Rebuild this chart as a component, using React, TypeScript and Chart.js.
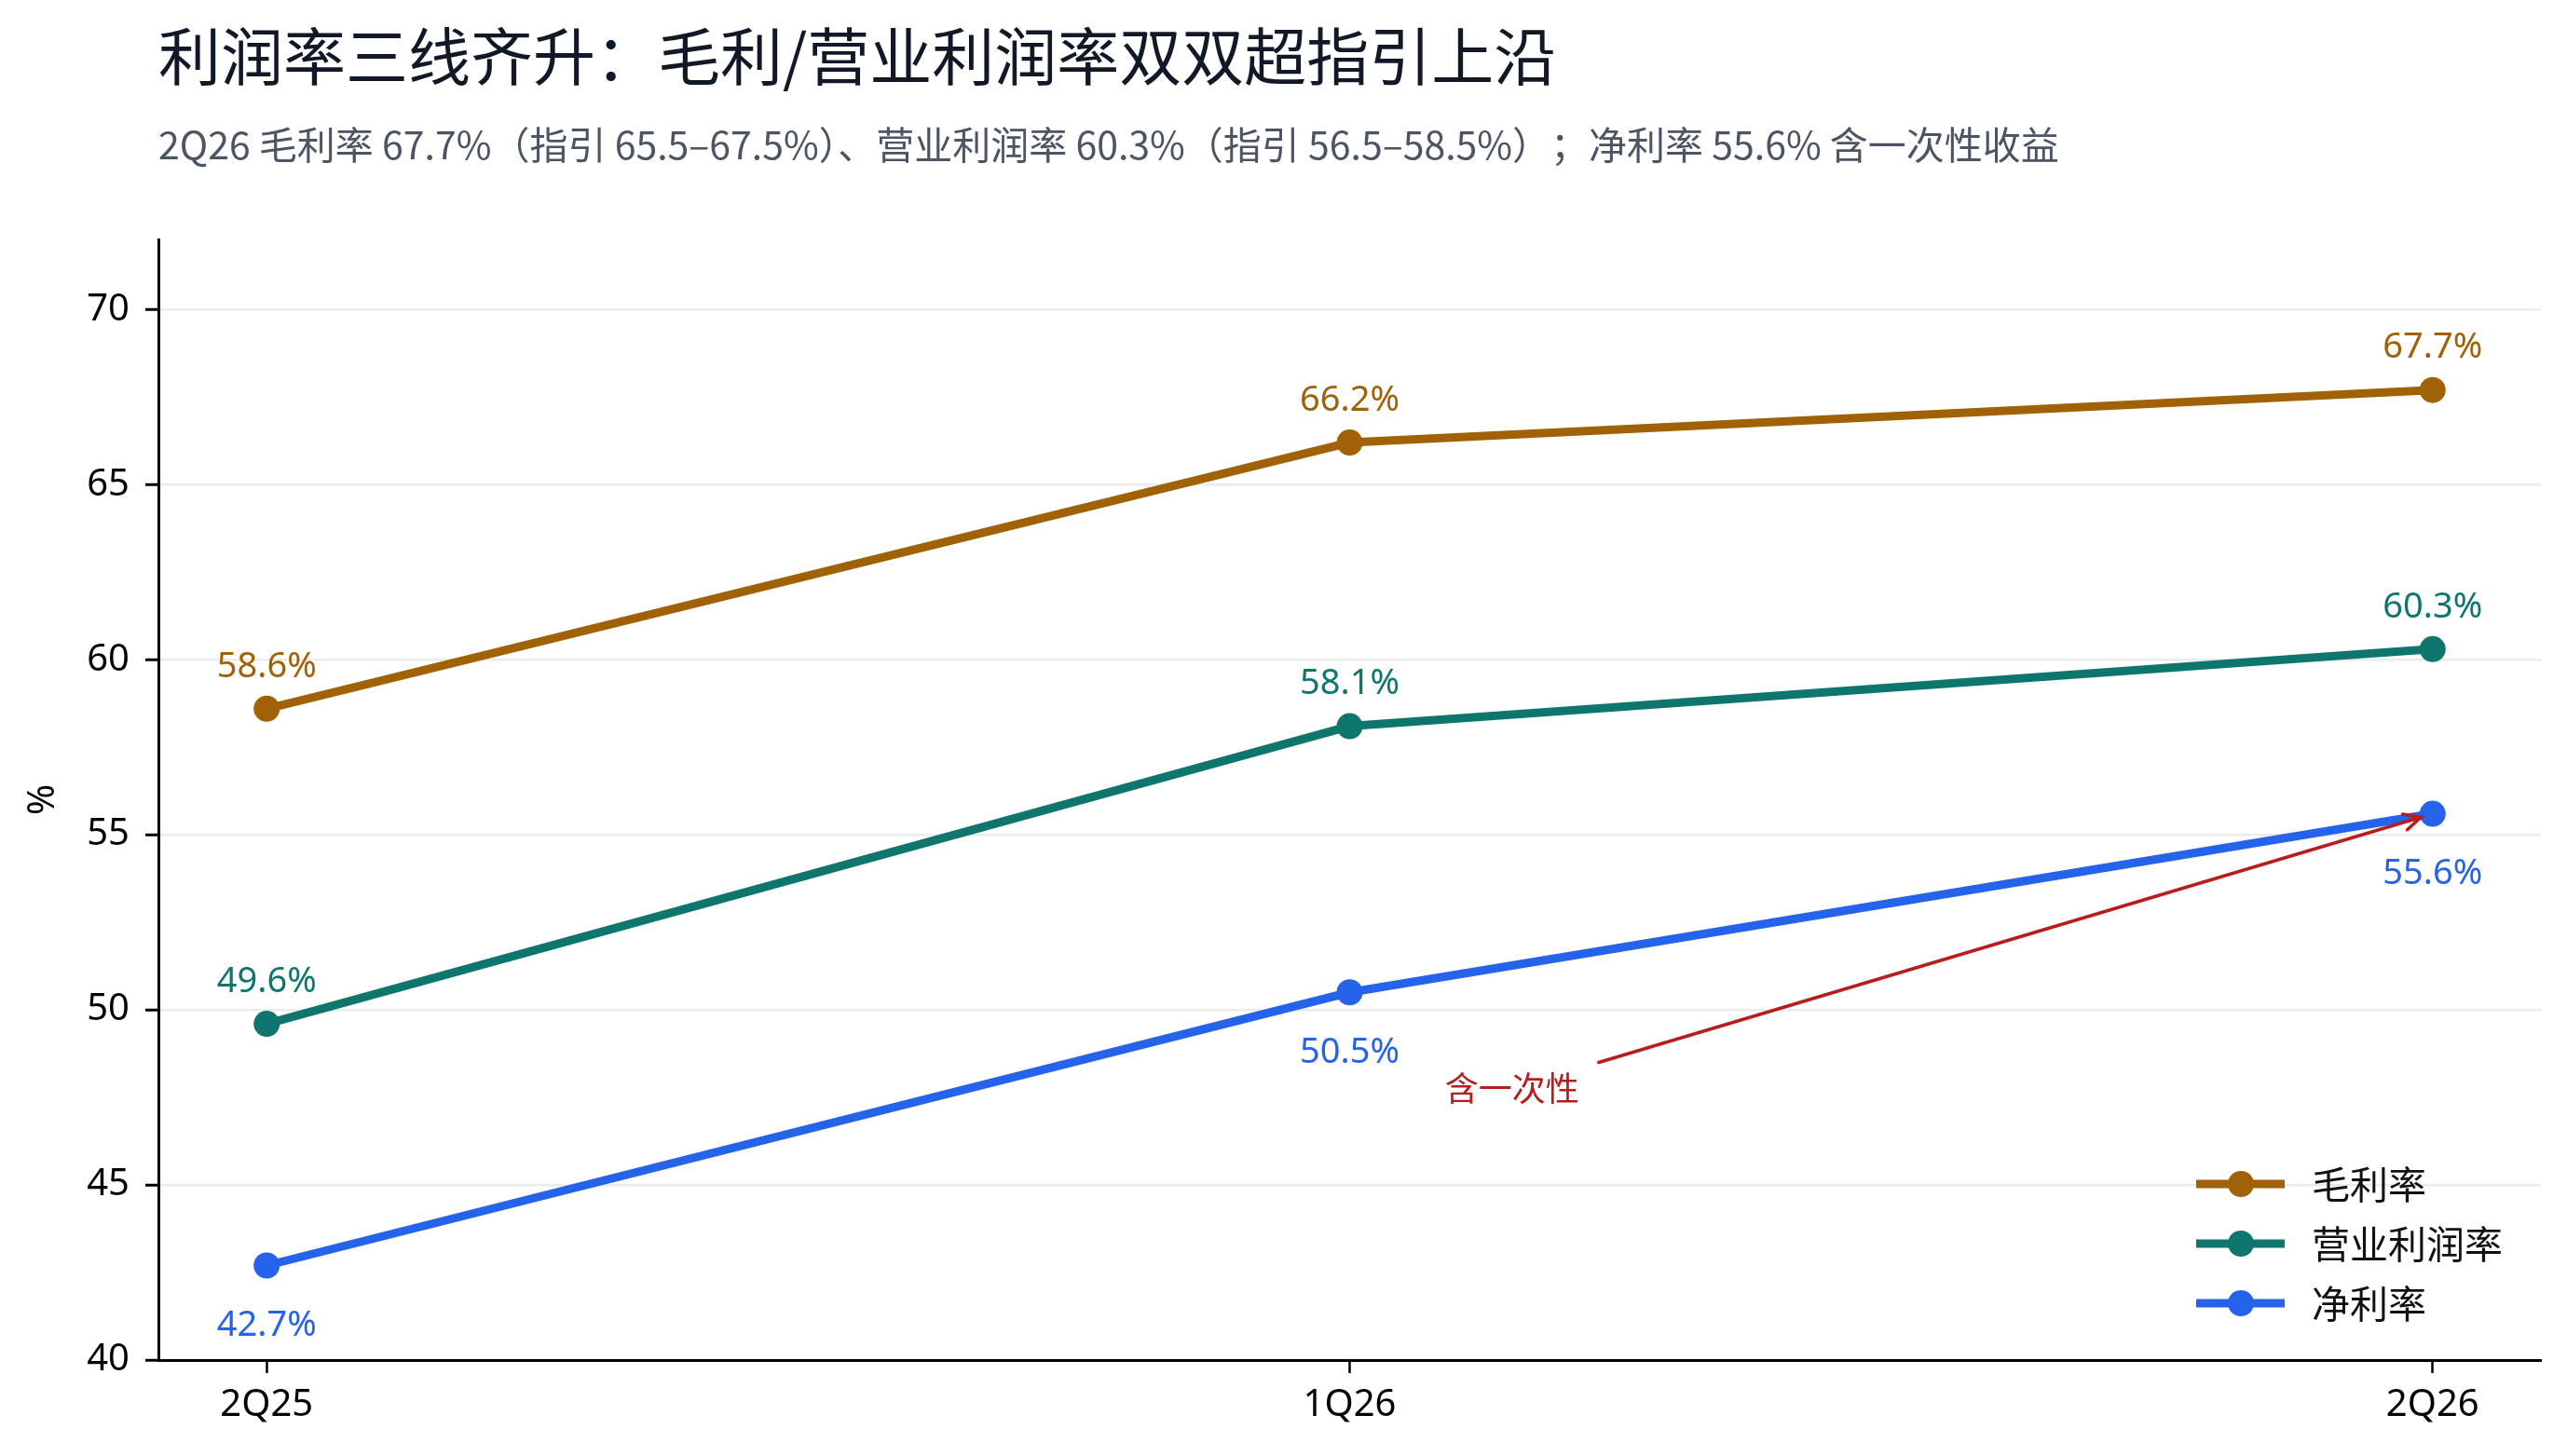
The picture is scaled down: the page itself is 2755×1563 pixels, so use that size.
import React, { useEffect, useRef } from 'react';
import { Chart, registerables } from 'chart.js';

Chart.register(...registerables);

// data
const quarters = ['2Q25', '1Q26', '2Q26'];
const grossMargin = [58.6, 66.2, 67.7];
const operatingMargin = [49.6, 58.1, 60.3];
const netMargin = [42.7, 50.5, 55.6];
const seriesNames = ['毛利率', '营业利润率', '净利率'];
const seriesColors = ['#a16207', '#0f766e', '#2563eb'];
const labelSides = ['above', 'above', 'below'];
const yTicks = [40, 45, 50, 55, 60, 65, 70];

const titleText = '利润率三线齐升：毛利/营业利润率双双超指引上沿';
const subtitleText = '2Q26 毛利率 67.7%（指引 65.5–67.5%）、营业利润率 60.3%（指引 56.5–58.5%）；净利率 55.6% 含一次性收益';
const noteText = '含一次性';
const noteAt = { x: 1.15, y: 47.75 };
const noteArrowFrom = { x: 1.23, y: 48.5 };
const noteArrowTo = { x: 2, y: 55.6 };

const FONT = '"Noto Sans", "Noto Sans CJK SC", sans-serif';
const CJK = '"Noto Sans CJK SC", "Noto Sans", sans-serif';

const W = 2755;
const H = 1563;

const overlayPlugin = {
  id: 'overlay',
  afterDraw(chart: any) {
    const { ctx, chartArea, scales } = chart;
    const xs = scales.x;
    const ys = scales.y;
    ctx.save();

    // title + subtitle
    ctx.textAlign = 'left';
    ctx.textBaseline = 'middle';
    ctx.fillStyle = '#111827';
    ctx.font = `400 67px ${CJK}`;
    ctx.fillText(titleText, chartArea.left, 61);
    ctx.fillStyle = '#4b5563';
    ctx.font = `400 41px ${CJK}`;
    ctx.fillText(subtitleText, chartArea.left, 155);

    // value labels
    ctx.font = `400 38px ${FONT}`;
    ctx.textAlign = 'center';
    chart.data.datasets.forEach((ds: any, di: number) => {
      const meta = chart.getDatasetMeta(di);
      meta.data.forEach((pt: any, i: number) => {
        const v = ds.data[i].y;
        const dy = labelSides[di] === 'below' ? 65 : -45;
        ctx.fillStyle = seriesColors[di];
        ctx.fillText(v.toFixed(1) + '%', pt.x, pt.y + dy);
      });
    });

    // annotation arrow
    const sx = xs.getPixelForValue(noteArrowFrom.x);
    const sy = ys.getPixelForValue(noteArrowFrom.y);
    const px = xs.getPixelForValue(noteArrowTo.x);
    const py = ys.getPixelForValue(noteArrowTo.y);
    const ang = Math.atan2(py - sy, px - sx);
    const ex = px - Math.cos(ang) * 13;
    const ey = py - Math.sin(ang) * 13;
    ctx.strokeStyle = '#b91c1c';
    ctx.lineWidth = 3.5;
    ctx.lineCap = 'round';
    ctx.beginPath();
    ctx.moveTo(sx, sy);
    ctx.lineTo(ex, ey);
    ctx.moveTo(ex - Math.cos(ang - 0.45) * 20, ey - Math.sin(ang - 0.45) * 20);
    ctx.lineTo(ex, ey);
    ctx.lineTo(ex - Math.cos(ang + 0.45) * 20, ey - Math.sin(ang + 0.45) * 20);
    ctx.stroke();
    ctx.fillStyle = '#b91c1c';
    ctx.font = `400 36px ${CJK}`;
    ctx.textAlign = 'center';
    ctx.fillText(noteText, xs.getPixelForValue(noteAt.x), ys.getPixelForValue(noteAt.y));

    // legend, bottom right inside the plot
    const lx = chartArea.right - 370;
    const lastRow = chartArea.bottom - 61;
    chart.data.datasets.forEach((ds: any, di: number) => {
      const y = lastRow - (chart.data.datasets.length - 1 - di) * 64;
      ctx.strokeStyle = ds.borderColor;
      ctx.lineWidth = 9;
      ctx.lineCap = 'butt';
      ctx.beginPath();
      ctx.moveTo(lx, y);
      ctx.lineTo(lx + 95, y);
      ctx.stroke();
      ctx.fillStyle = ds.borderColor;
      ctx.beginPath();
      ctx.arc(lx + 48, y, 14, 0, Math.PI * 2);
      ctx.fill();
      ctx.fillStyle = '#111111';
      ctx.font = `400 41px ${CJK}`;
      ctx.textAlign = 'left';
      ctx.fillText(ds.label, lx + 124, y);
    });

    ctx.restore();
  },
};

const App: React.FC = () => {
  const canvasRef = useRef<HTMLCanvasElement>(null);

  useEffect(() => {
    if (!canvasRef.current) return;
    const series = [grossMargin, operatingMargin, netMargin];
    const chart = new Chart(canvasRef.current, {
      type: 'line',
      data: {
        datasets: series.map((vals, di) => ({
          label: seriesNames[di],
          data: vals.map((v, i) => ({ x: i, y: v })),
          borderColor: seriesColors[di],
          backgroundColor: seriesColors[di],
          borderWidth: 9,
          pointRadius: 14,
          pointBorderWidth: 0,
          pointBackgroundColor: seriesColors[di],
          tension: 0,
          fill: false,
        })),
      },
      options: {
        animation: false,
        responsive: false,
        devicePixelRatio: 1,
        layout: { padding: { top: 257, right: 28, left: 0, bottom: 0 } },
        plugins: {
          legend: { display: false },
          tooltip: { enabled: false },
          title: { display: false },
        },
        scales: {
          x: {
            type: 'linear',
            min: -0.1,
            max: 2.1,
            afterFit: (s: any) => { s.height = 103; },
            afterBuildTicks: (s: any) => { s.ticks = quarters.map((_, i) => ({ value: i })); },
            ticks: {
              callback: (v: any) => quarters[v] ?? '',
              font: { size: 40, family: FONT },
              color: '#000',
              padding: 11,
              maxRotation: 0,
              autoSkip: false,
            },
            grid: { drawOnChartArea: false, drawTicks: true, tickLength: 14, tickColor: '#000', tickWidth: 2.5 },
            border: { display: true, color: '#000', width: 3 },
          },
          y: {
            min: 40,
            max: 72,
            afterFit: (s: any) => { s.width = 170; },
            afterBuildTicks: (s: any) => { s.ticks = yTicks.map((v) => ({ value: v })); },
            ticks: {
              font: { size: 40, family: FONT },
              color: '#000',
              padding: 17,
            },
            grid: { color: '#ebebeb', lineWidth: 2.5, drawTicks: true, tickLength: 14, tickColor: '#000', tickWidth: 3 },
            border: { display: true, color: '#000', width: 3 },
            title: { display: true, text: '%', font: { size: 40, family: FONT }, color: '#000', padding: { top: 23, bottom: 0 } },
          },
        },
      },
      plugins: [overlayPlugin],
    } as any);
    return () => chart.destroy();
  }, []);

  return (
    <div style={{ position: 'fixed', left: 0, top: 0, width: W, height: H, background: '#fff' }}>
      <canvas ref={canvasRef} width={W} height={H} style={{ width: W, height: H }} />
    </div>
  );
};

export default App;
